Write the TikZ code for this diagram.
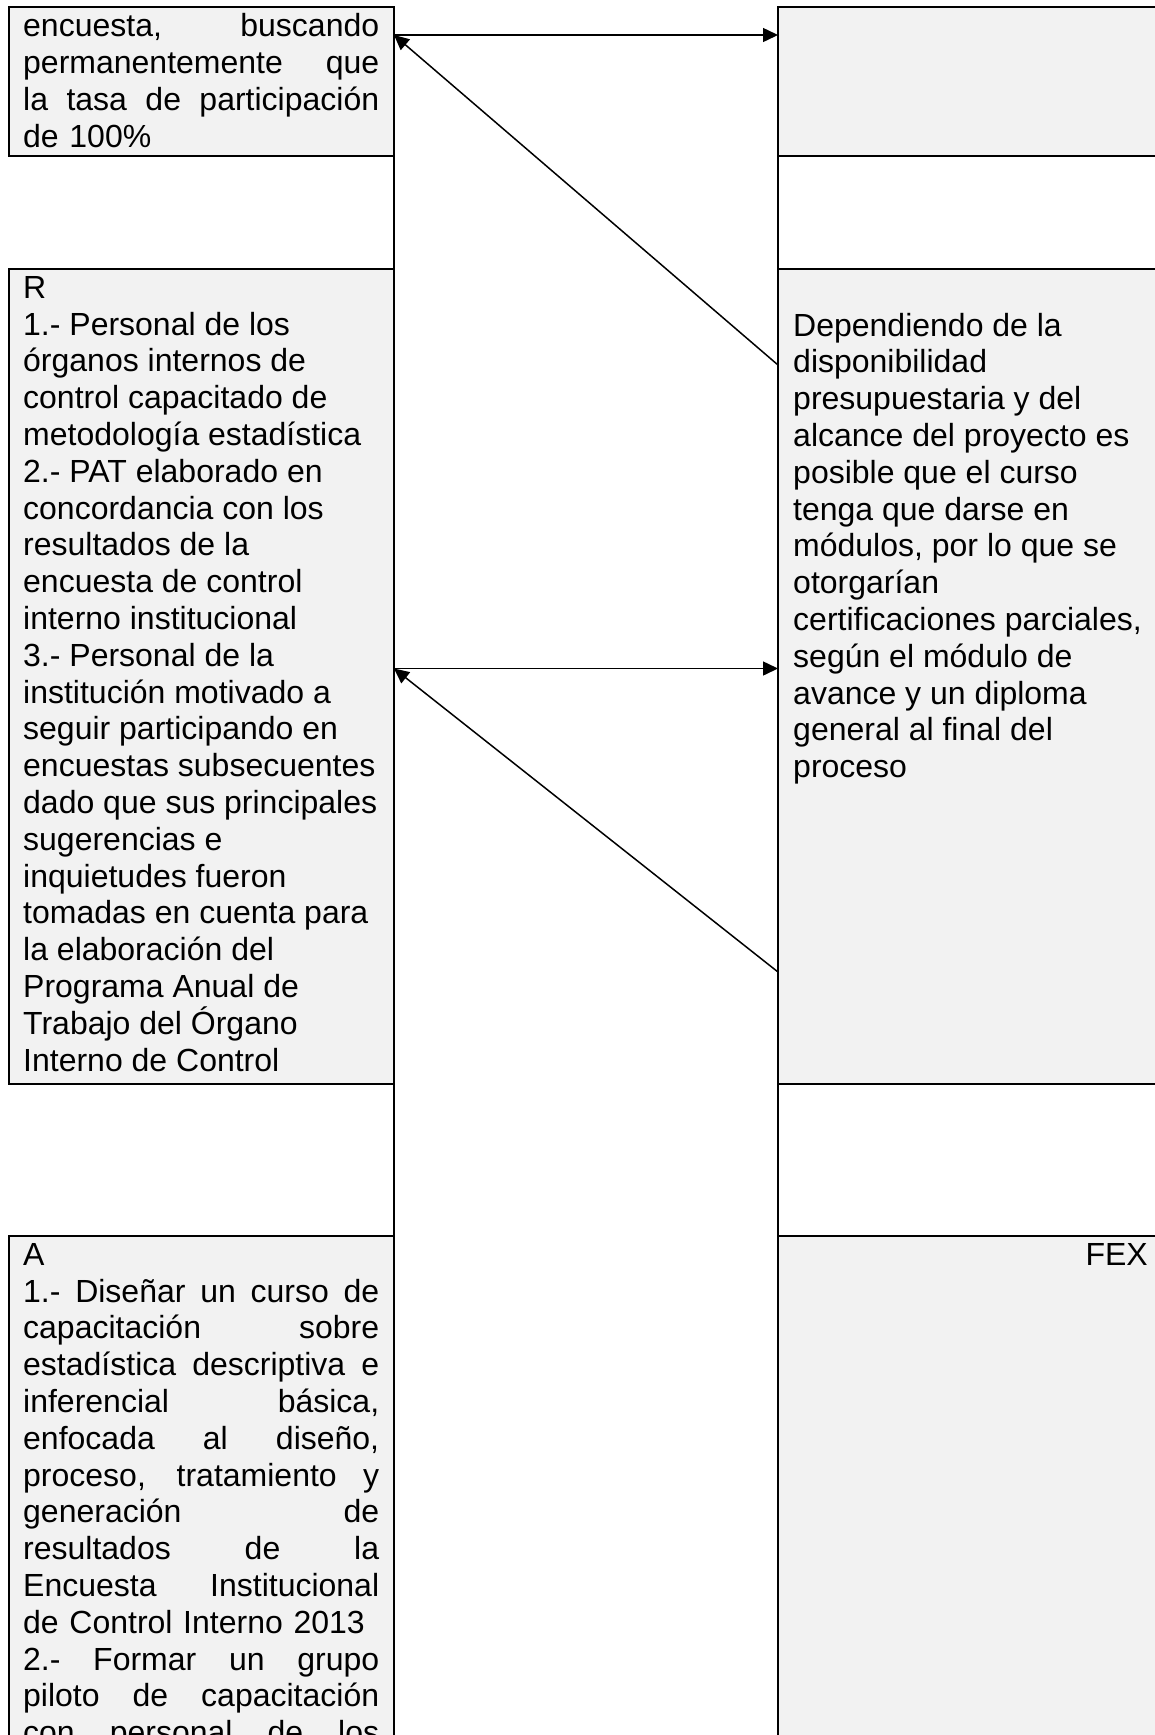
\documentclass[tikz,border=0pt]{standalone}
\usepackage{fontspec}
\setmainfont{Liberation Sans}
\usepackage{tikz}
\usetikzlibrary{arrows,arrows.meta,calc,positioning}
\definecolor{cellgray}{HTML}{F2F2F2}
\tikzstyle{arrow} = [line width=1.5pt, ->, >={Triangle[length=15pt,width=14pt]}]
\tikzstyle{cell} = [draw, line width=2pt, fill=cellgray, inner sep=0pt, outer sep=0pt, anchor=north west, minimum width=385.5pt]
\tikzstyle{celltext} = [inner sep=0pt, anchor=north west, align=left, font=\fontsize{32}{36.8}\selectfont]
\newcommand{\jline}[1]{{\spaceskip=0pt\xspaceskip=0pt\makebox[356pt][s]{#1}}}

\begin{document}
\begin{tikzpicture}[x=1pt,y=-1pt]
\useasboundingbox (0,0) rectangle (1155,1735);
% cells, left and right
\node[cell, minimum height=149pt] (topL) at (8.5,7) {};
\node[cell, minimum height=815pt] (midL) at (8.5,269) {};
\node[cell, minimum height=600pt] (botL) at (8.5,1236) {};
\node[cell, minimum width=400pt, minimum height=149pt] (topR) at (778,7) {};
\node[cell, minimum width=400pt, minimum height=815pt] (midR) at (778,269) {};
\node[cell, minimum width=400pt, minimum height=600pt] (botR) at (778,1236) {};
\draw[line width=2pt] (topL.north east) -- (botL.south east);
\draw[line width=2pt] (topR.north west) -- (botR.south west);

\node[celltext, text width=356pt] (txtTop) at ($(topL.north west)+(14.5,6.5)$)
  {\jline{encuesta, buscando}\\ \jline{permanentemente que}\\
   \jline{la tasa de participación}\\ de 100\%};
\node[celltext] (txtR) at ($(midL.north west)+(14.5,7)$)
  {R\\ 1.- Personal de los\\ órganos internos de\\ control capacitado de\\
   metodología estadística\\ 2.- PAT elaborado en\\ concordancia con los\\
   resultados de la\\ encuesta de control\\ interno institucional\\
   3.- Personal de la\\ institución motivado a\\ seguir participando en\\
   encuestas subsecuentes\\ dado que sus principales\\ sugerencias e\\
   inquietudes fueron\\ tomadas en cuenta para\\ la elaboración del\\
   Programa Anual de\\ Trabajo del Órgano\\ Interno de Control};
\node[celltext] (txtRisk) at ($(midR.north west)+(15,43.8)$)
  {Dependiendo de la\\ disponibilidad\\ presupuestaria y del\\
   alcance del proyecto es\\ posible que el curso\\ tenga que darse en\\
   módulos, por lo que se\\ otorgarían\\ certificaciones parciales,\\
   según el módulo de\\ avance y un diploma\\ general al final del\\ proceso};
\node[celltext, text width=356pt] (txtA) at ($(botL.north west)+(14.5,7)$)
  {A\\ \jline{1.- Diseñar un curso de}\\ \jline{capacitación sobre}\\
   \jline{estadística descriptiva e}\\ \jline{inferencial básica,}\\
   \jline{enfocada al diseño,}\\ \jline{proceso, tratamiento y}\\
   \jline{generación de}\\ \jline{resultados de la}\\
   \jline{Encuesta Institucional}\\ de Control Interno 2013\\
   \jline{2.- Formar un grupo}\\ \jline{piloto de capacitación}\\
   \jline{con personal de los}};
\node[celltext, anchor=north east] (txtFex) at ($(botR.north west)+(370,7)$) {FEX};

\draw[arrow] ($(topL.north east)+(0,28)$) -- ($(topR.north west)+(0,28)$);
\draw[arrow] ($(midR.north west)+(0,96)$) -- ($(topL.north east)+(0,28)$);
\draw[arrow] ($(midL.north east)+(0,399.5)$) -- ($(midR.north west)+(0,399.5)$);
\draw[arrow] ($(midR.north west)+(0,703)$) -- ($(midL.north east)+(0,399.5)$);
\end{tikzpicture}
\end{document}
